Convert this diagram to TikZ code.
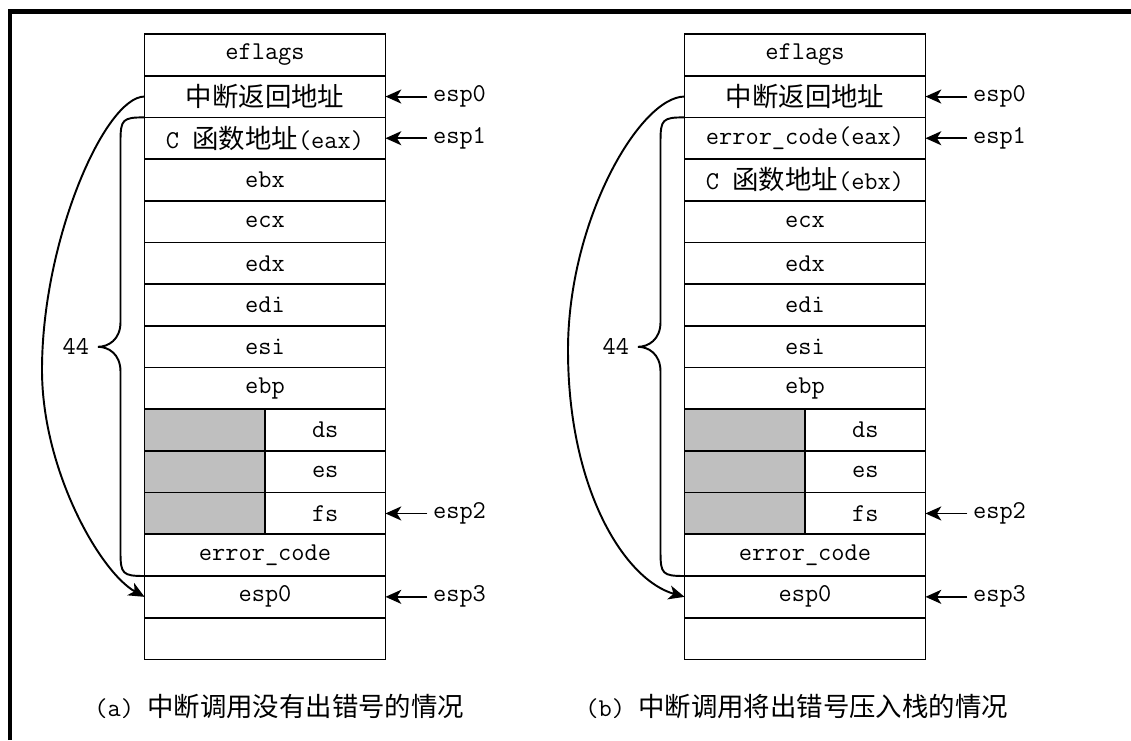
\documentclass[tikz,border=0pt]{standalone}
\usepackage{fontspec}
\newfontfamily\cjk[Scale=1.03]{Noto Sans CJK SC}
\usetikzlibrary{positioning,arrows.meta}
\definecolor{cellgray}{gray}{0.75}

\tikzset{
	cell/.style={draw, line width=0.95pt, minimum width=4.82cm, minimum height=0.834cm,
		inner sep=0pt, outer sep=0pt, font=\fontsize{14.6}{16}\ttfamily},
	half/.style={cell, minimum width=2.41cm},
	shade/.style={half, fill=cellgray},
	ptr/.style={inner sep=3pt, font=\fontsize{14.6}{16}\ttfamily},
	ptrarrow/.style={-{Stealth[length=9pt,width=8pt,inset=2.5pt]}, line width=1.1pt},
	brace/.style={line width=1.1pt},
	caption/.style={inner sep=0pt, font=\fontsize{14.6}{16}\ttfamily}
}

\begin{document}
\begin{tikzpicture}[x=0.02cm, y=-0.02cm]
	\useasboundingbox (0,0) rectangle (1131,740);
	% Rahmen
	\draw[line width=2.3pt] (10,740) -- (10,11.5) -- (1131,11.5);

	% Stapel (a)
	\node[cell] (a1) at (265,54.85) {eflags};
	\node[cell, below=0pt of a1] (a2) {{\cjk 中断返回地址}};
	\node[cell, below=0pt of a2] (a3) {C {\cjk 函数地址}(eax)};
	\node[cell, below=0pt of a3] (a4) {ebx};
	\node[cell, below=0pt of a4] (a5) {ecx};
	\node[cell, below=0pt of a5] (a6) {edx};
	\node[cell, below=0pt of a6] (a7) {edi};
	\node[cell, below=0pt of a7] (a8) {esi};
	\node[cell, below=0pt of a8] (a9) {ebp};
	\node[shade, anchor=north west] (a10g) at (a9.south west) {};
	\node[half, anchor=north east] (a10) at (a9.south east) {ds};
	\node[shade, anchor=north west] (a11g) at (a10g.south west) {};
	\node[half, anchor=north east] (a11) at (a10.south east) {es};
	\node[shade, anchor=north west] (a12g) at (a11g.south west) {};
	\node[half, anchor=north east] (a12) at (a11.south east) {fs};
	\node[cell, anchor=north east] (a13) at (a12.south east) {error\_code};
	\node[cell, below=0pt of a13] (a14) {esp0};
	\node[cell, below=0pt of a14] (a15) {};

	% Zeiger (a)
	\node[ptr, right=0.84cm of a2] (pa0) {esp0};
	\node[ptr, right=0.84cm of a3] (pa1) {esp1};
	\node[ptr, right=0.84cm of a12] (pa2) {esp2};
	\node[ptr, right=0.84cm of a14] (pa3) {esp3};
	\draw[ptrarrow] (pa0.west) -- (a2.east);
	\draw[ptrarrow] (pa1.west) -- (a3.east);
	\draw[ptrarrow] (pa2.west) -- (a12.east);
	\draw[ptrarrow] (pa3.west) -- (a14.east);

	% Klammer (a)
	\coordinate (tipA) at (98,346.8);
	\node[ptr, inner sep=2pt, left=0.1cm of tipA] (na) {44};
	\draw[brace] (a3.north west) .. controls +(-22,0) and +(0,-22) .. (120.5,141.4)
		-- (120.5,322) .. controls (120.5,340) and (108,346.8) .. (tipA)
		.. controls (108,346.8) and (120.5,353.6) .. (120.5,371.6)
		-- (120.5,552) .. controls +(0,22) and +(-22,0) .. (a13.south west);
	\draw[brace, ptrarrow] (a2.west) .. controls (105,96.7) and (42,240) .. (42,370)
		.. controls (42,470) and (100,572) .. (a14.west);

	% Stapel (b)
	\node[cell] (b1) at (805,54.85) {eflags};
	\node[cell, below=0pt of b1] (b2) {{\cjk 中断返回地址}};
	\node[cell, below=0pt of b2] (b3) {error\_code(eax)};
	\node[cell, below=0pt of b3] (b4) {C {\cjk 函数地址}(ebx)};
	\node[cell, below=0pt of b4] (b5) {ecx};
	\node[cell, below=0pt of b5] (b6) {edx};
	\node[cell, below=0pt of b6] (b7) {edi};
	\node[cell, below=0pt of b7] (b8) {esi};
	\node[cell, below=0pt of b8] (b9) {ebp};
	\node[shade, anchor=north west] (b10g) at (b9.south west) {};
	\node[half, anchor=north east] (b10) at (b9.south east) {ds};
	\node[shade, anchor=north west] (b11g) at (b10g.south west) {};
	\node[half, anchor=north east] (b11) at (b10.south east) {es};
	\node[shade, anchor=north west] (b12g) at (b11g.south west) {};
	\node[half, anchor=north east] (b12) at (b11.south east) {fs};
	\node[cell, anchor=north east] (b13) at (b12.south east) {error\_code};
	\node[cell, below=0pt of b13] (b14) {esp0};
	\node[cell, below=0pt of b14] (b15) {};

	% Zeiger (b)
	\node[ptr, right=0.84cm of b2] (pb0) {esp0};
	\node[ptr, right=0.84cm of b3] (pb1) {esp1};
	\node[ptr, right=0.84cm of b12] (pb2) {esp2};
	\node[ptr, right=0.84cm of b14] (pb3) {esp3};
	\draw[ptrarrow] (pb0.west) -- (b2.east);
	\draw[ptrarrow] (pb1.west) -- (b3.east);
	\draw[ptrarrow] (pb2.west) -- (b12.east);
	\draw[ptrarrow] (pb3.west) -- (b14.east);

	% Klammer (b)
	\coordinate (tipB) at (638,346.8);
	\node[ptr, inner sep=2pt, left=0.1cm of tipB] (nb) {44};
	\draw[brace] (b3.north west) .. controls +(-22,0) and +(0,-22) .. (660.5,141.4)
		-- (660.5,322) .. controls (660.5,340) and (648,346.8) .. (tipB)
		.. controls (648,346.8) and (660.5,353.6) .. (660.5,371.6)
		-- (660.5,552) .. controls +(0,22) and +(-22,0) .. (b13.south west);
	\draw[brace, ptrarrow] (b2.west) .. controls (640,96.7) and (568,220) .. (568,350)
		.. controls (568,490) and (625,580) .. (b14.west);

	% Bildunterschriften
	\node[caption, anchor=west] (capa) at (94,706) {(a)\ {\cjk 中断调用没有出错号的情况}};
	\node[caption, anchor=west] (capb) at (585,706) {(b)\ {\cjk 中断调用将出错号压入栈的情况}};
\end{tikzpicture}
\end{document}
